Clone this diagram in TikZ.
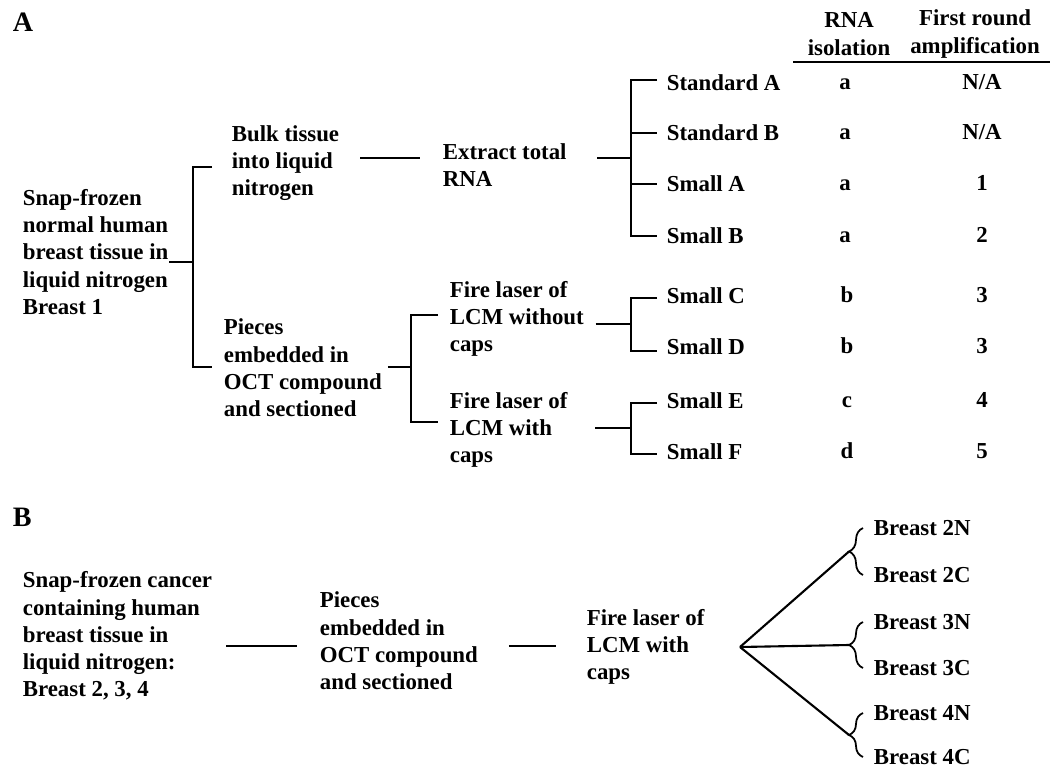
\documentclass[tikz,border=0pt]{standalone}
\usepackage{fontspec}
\setmainfont{Liberation Serif}
\usetikzlibrary{calc,decorations.pathreplacing}
\tikzstyle{bag} = [anchor=west, align=left, inner sep=0pt]
\tikzstyle{val} = [inner sep=0pt, text height=1.55ex, text depth=0pt]
\tikzstyle{hdr} = [align=center, inner sep=0pt]
\tikzstyle{panel} = [anchor=west, inner sep=0pt, font=\fontsize{16}{19}\selectfont\bfseries]
\tikzstyle{curly} = [decorate, decoration={brace, amplitude=0.28cm}]

\begin{document}
\begin{tikzpicture}[x=0.02cm, y=-0.02cm, line width=1pt, font=\fontsize{13}{15.5}\selectfont\bfseries]
  \useasboundingbox (0,0) rectangle (1057,770);
  % part A
  \node (pa) at (12,22) [panel] {A};
  \node (r) at (22,252) [bag] {Snap-frozen\\normal human\\breast tissue in\\liquid nitrogen\\Breast 1};
  \node (bk) at (231,163) [bag] {Bulk tissue\\into liquid\\nitrogen};
  \node (ex) at (442,165) [bag] {Extract total\\RNA};
  \node (pc) at (223,368) [bag] {Pieces\\embedded in\\OCT compound\\and sectioned};
  \node (fo) at (449,319) [bag] {Fire laser of\\LCM without\\caps};
  \node (fw) at (449,430) [bag] {Fire laser of\\LCM with\\caps};
  \node (sa) at (666,83) [bag] {Standard A};
  \node (sb) at (666,133) [bag] {Standard B};
  \node (ma) at (666,184) [bag] {Small A};
  \node (mb) at (666,236) [bag] {Small B};
  \node (mc) at (666,296) [bag] {Small C};
  \node (md) at (666,347) [bag] {Small D};
  \node (me) at (666,401) [bag] {Small E};
  \node (mf) at (666,452) [bag] {Small F};
  % table
  \node (h1) at (849,34) [hdr] {RNA\\isolation};
  \node (h2) at (975,34) [hdr] {First round\\amplification};
  \draw [line width=1.4pt] (793,62) -- (1050,62);
  \node (ia) at (845,83) [val] {a};
  \node (ib) at (845,133) [val] {a};
  \node (ic) at (845,184) [val] {a};
  \node (id) at (845,236) [val] {a};
  \node (ie) at (847,296) [val] {b};
  \node (if) at (847,347) [val] {b};
  \node (ig) at (847,401) [val] {c};
  \node (ih) at (847,452) [val] {d};
  \node (aa) at (982,83) [val] {N/A};
  \node (ab) at (982,133) [val] {N/A};
  \node (ac) at (982,184) [val] {1};
  \node (ad) at (982,236) [val] {2};
  \node (ae) at (982,296) [val] {3};
  \node (af) at (982,347) [val] {3};
  \node (ag) at (982,401) [val] {4};
  \node (ah) at (982,452) [val] {5};
  \coordinate (j1) at (193,262);
  \coordinate (j3) at (631,158);
  \coordinate (j4) at (411,367);
  \coordinate (j5) at (631,324);
  \coordinate (j6) at (631,428);
  \draw (r.east |- j1) -- (j1);
  \draw ($(bk.west)+(-19,4)$) -| (j1) |- ($(pc.west)+(-11,-1)$);
  \draw ($(bk.east)+(20,-5)$) -- ($(ex.west)+(-22,-7)$);
  \draw ($(ex.east |- j3)+(30,0)$) -- (j3);
  \draw ($(sa.west)+(-9,-3)$) -| (j3) |- ($(mb.west)+(-9,0)$);
  \draw (j3 |- sb.west) -- ($(sb.west)+(-9,0)$);
  \draw (j3 |- ma.west) -- ($(ma.west)+(-9,0)$);
  \draw ($(pc.east |- j4)+(5,0)$) -- (j4);
  \draw ($(fo.west)+(-11,-4)$) -| (j4) |- ($(fw.west)+(-11,-8)$);
  \draw ($(fo.east |- j5)+(11,0)$) -- (j5);
  \draw ($(mc.west)+(-9,2)$) -| (j5) |- ($(md.west)+(-9,4)$);
  \draw ($(fw.east |- j6)+(27,0)$) -- (j6);
  \draw ($(me.west)+(-9,2)$) -| (j6) |- ($(mf.west)+(-9,2)$);
  % part B
  \node (pb) at (12,517) [panel] {B};
  \node (s) at (22,636) [bag] {Snap-frozen cancer\\containing human\\breast tissue in\\liquid nitrogen:\\Breast 2, 3, 4};
  \node (q) at (319,641) [bag] {Pieces\\embedded in\\OCT compound\\and sectioned};
  \node (l) at (586,647) [bag] {Fire laser of\\LCM with\\caps};
  \node (n2) at (873,528) [bag] {Breast 2N};
  \node (c2) at (873,575) [bag] {Breast 2C};
  \node (n3) at (873,622) [bag] {Breast 3N};
  \node (c3) at (873,668) [bag] {Breast 3C};
  \node (n4) at (873,713) [bag] {Breast 4N};
  \node (c4) at (873,757) [bag] {Breast 4C};
  \draw ($(s.east)+(13,10)$) -- ($(q.west)+(-22,5)$);
  \draw ($(q.east)+(30,5)$) -- ($(l.west)+(-30,-1)$);
  \coordinate (fan) at (740,647);
  \coordinate (t2) at ($(n2.west)!0.5!(c2.west)+(-24,0)$);
  \coordinate (t3) at ($(n3.west)!0.5!(c3.west)+(-24,0)$);
  \coordinate (t4) at ($(n4.west)!0.5!(c4.west)+(-24,0)$);
  \draw [curly] ($(c2.west)+(-10,0)$) -- ($(n2.west)+(-10,0)$);
  \draw [curly] ($(c3.west)+(-10,0)$) -- ($(n3.west)+(-10,0)$);
  \draw [curly] ($(c4.west)+(-10,0)$) -- ($(n4.west)+(-10,0)$);
  \draw [line width=1.2pt] (fan) -- (t2);
  \draw [line width=1.2pt] (fan) -- (t3);
  \draw [line width=1.2pt] (fan) -- (t4);
\end{tikzpicture}
\end{document}
